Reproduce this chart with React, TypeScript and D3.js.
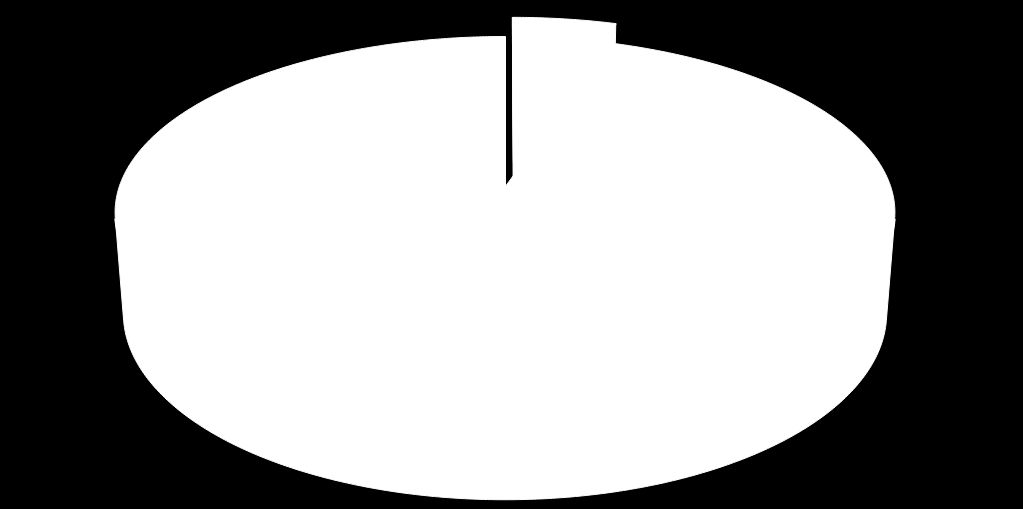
import React, { useEffect, useRef } from 'react';
import * as d3 from 'd3';

// chart data: small exploded slice at the back, one big slice for the rest
const categories = ['Other', 'Main'];
const values = [5, 95];
const explodeBy = [0.15, 0];

const App: React.FC = () => {
  const svgRef = useRef<SVGSVGElement>(null);

  useEffect(() => {
    if (!svgRef.current) return;
    const svg = d3.select(svgRef.current);
    svg.selectAll('*').remove();

    // ===== view settings =====
    const width = 1023;
    const height = 509;
    const cx = 505;           // screen x of pie centre
    const cy = 187;           // screen y of pie centre (top face)
    const tilt = (26.5 * Math.PI) / 180;
    const camDist = 6.22;     // camera distance in radius units
    const focal = 2400;
    const depth3d = 0.296;    // pie thickness in radius units
    const fill = '#ffffff';
    const bg = '#000000';
    // =========================

    const sinT = Math.sin(tilt);
    const cosT = Math.cos(tilt);

    // perspective projection of a point (X right, Y up, Z toward viewer)
    const project = (X: number, Y: number, Z: number): [number, number] => {
      const dz = camDist - Y * sinT - Z * cosT;
      const yc = Y * cosT - Z * sinT;
      return [cx + (focal * X) / dz, cy - (focal * yc) / dz];
    };
    const cam = [0, camDist * sinT, camDist * cosT];

    const rim = (a: number, Y: number, ox: number, oz: number) =>
      project(ox + Math.sin(a), Y, oz - Math.cos(a));

    const line = d3.line();

    svg.attr('width', width).attr('height', height);
    svg.append('rect')
      .attr('width', width)
      .attr('height', height)
      .attr('fill', bg);

    const arcs = d3.pie<number>().sort(null).startAngle(0)(values);

    const sampleAngles = (a0: number, a1: number) => {
      const n = Math.max(8, Math.ceil(((a1 - a0) * 360) / Math.PI));
      return d3.range(n + 1).map(i => a0 + ((a1 - a0) * i) / n);
    };

    const style = (sel: d3.Selection<SVGPathElement, unknown, null, undefined>) =>
      sel.attr('fill', fill)
        .attr('stroke', fill)
        .attr('stroke-width', 1)
        .attr('stroke-linejoin', 'round');

    const g = svg.append('g');

    arcs.forEach((arc, i) => {
      const mid = (arc.startAngle + arc.endAngle) / 2;
      const e = explodeBy[i];
      const ox = e * Math.sin(mid);
      const oz = -e * Math.cos(mid);
      const angles = sampleAngles(arc.startAngle, arc.endAngle);
      const slice = g.append('g').attr('class', `slice ${categories[i]}`);
      const seams: [number, number][][] = [];

      // outer wall: only the part that faces the camera, in unbroken runs
      const faces = (a: number) =>
        -cam[2] * Math.cos(a) - (ox * Math.sin(a) - oz * Math.cos(a)) - 1 > 0;
      const runs: number[][] = [];
      let run: number[] = [];
      angles.forEach(a => {
        if (faces(a)) run.push(a);
        else if (run.length) { runs.push(run); run = []; }
      });
      if (run.length) runs.push(run);
      runs.filter(r => r.length > 1).forEach(r => {
        const topEdge = r.map(a => rim(a, 0, ox, oz));
        const wall = [...topEdge, ...r.slice().reverse().map(a => rim(a, -depth3d, ox, oz))];
        slice.append('path').attr('d', line(wall) + 'Z').call(style);
        seams.push(topEdge);
      });

      // radial walls, drawn only when turned toward the camera
      const toCam = [cam[0] - ox, cam[1], cam[2] - oz];
      [
        { a: arc.startAngle, sign: -1 },
        { a: arc.endAngle, sign: 1 },
      ].forEach(({ a, sign }) => {
        const dot = sign * (Math.cos(a) * toCam[0] + Math.sin(a) * toCam[2]);
        if (dot <= 0) return;
        const wall: [number, number][] = [
          project(ox, 0, oz),
          rim(a, 0, ox, oz),
          rim(a, -depth3d, ox, oz),
          project(ox, -depth3d, oz),
        ];
        slice.append('path').attr('d', line(wall) + 'Z').call(style);
        seams.push([wall[0], wall[1]]);
      });

      // top face
      const top = [project(ox, 0, oz), ...angles.map(a => rim(a, 0, ox, oz))];
      slice.append('path').attr('d', line(top) + 'Z').call(style);

      // paint over the joins between faces so no hairline shows through
      seams.forEach(s => {
        slice.append('path')
          .attr('d', line(s))
          .attr('fill', 'none')
          .attr('stroke', fill)
          .attr('stroke-width', 2)
          .attr('stroke-linecap', 'butt');
      });
    });
  }, []);

  return (
    <div style={{ position: 'fixed', left: 0, top: 0, width: 1023, height: 509, background: '#000' }}>
      <svg ref={svgRef} style={{ display: 'block' }}></svg>
    </div>
  );
};

export default App;
